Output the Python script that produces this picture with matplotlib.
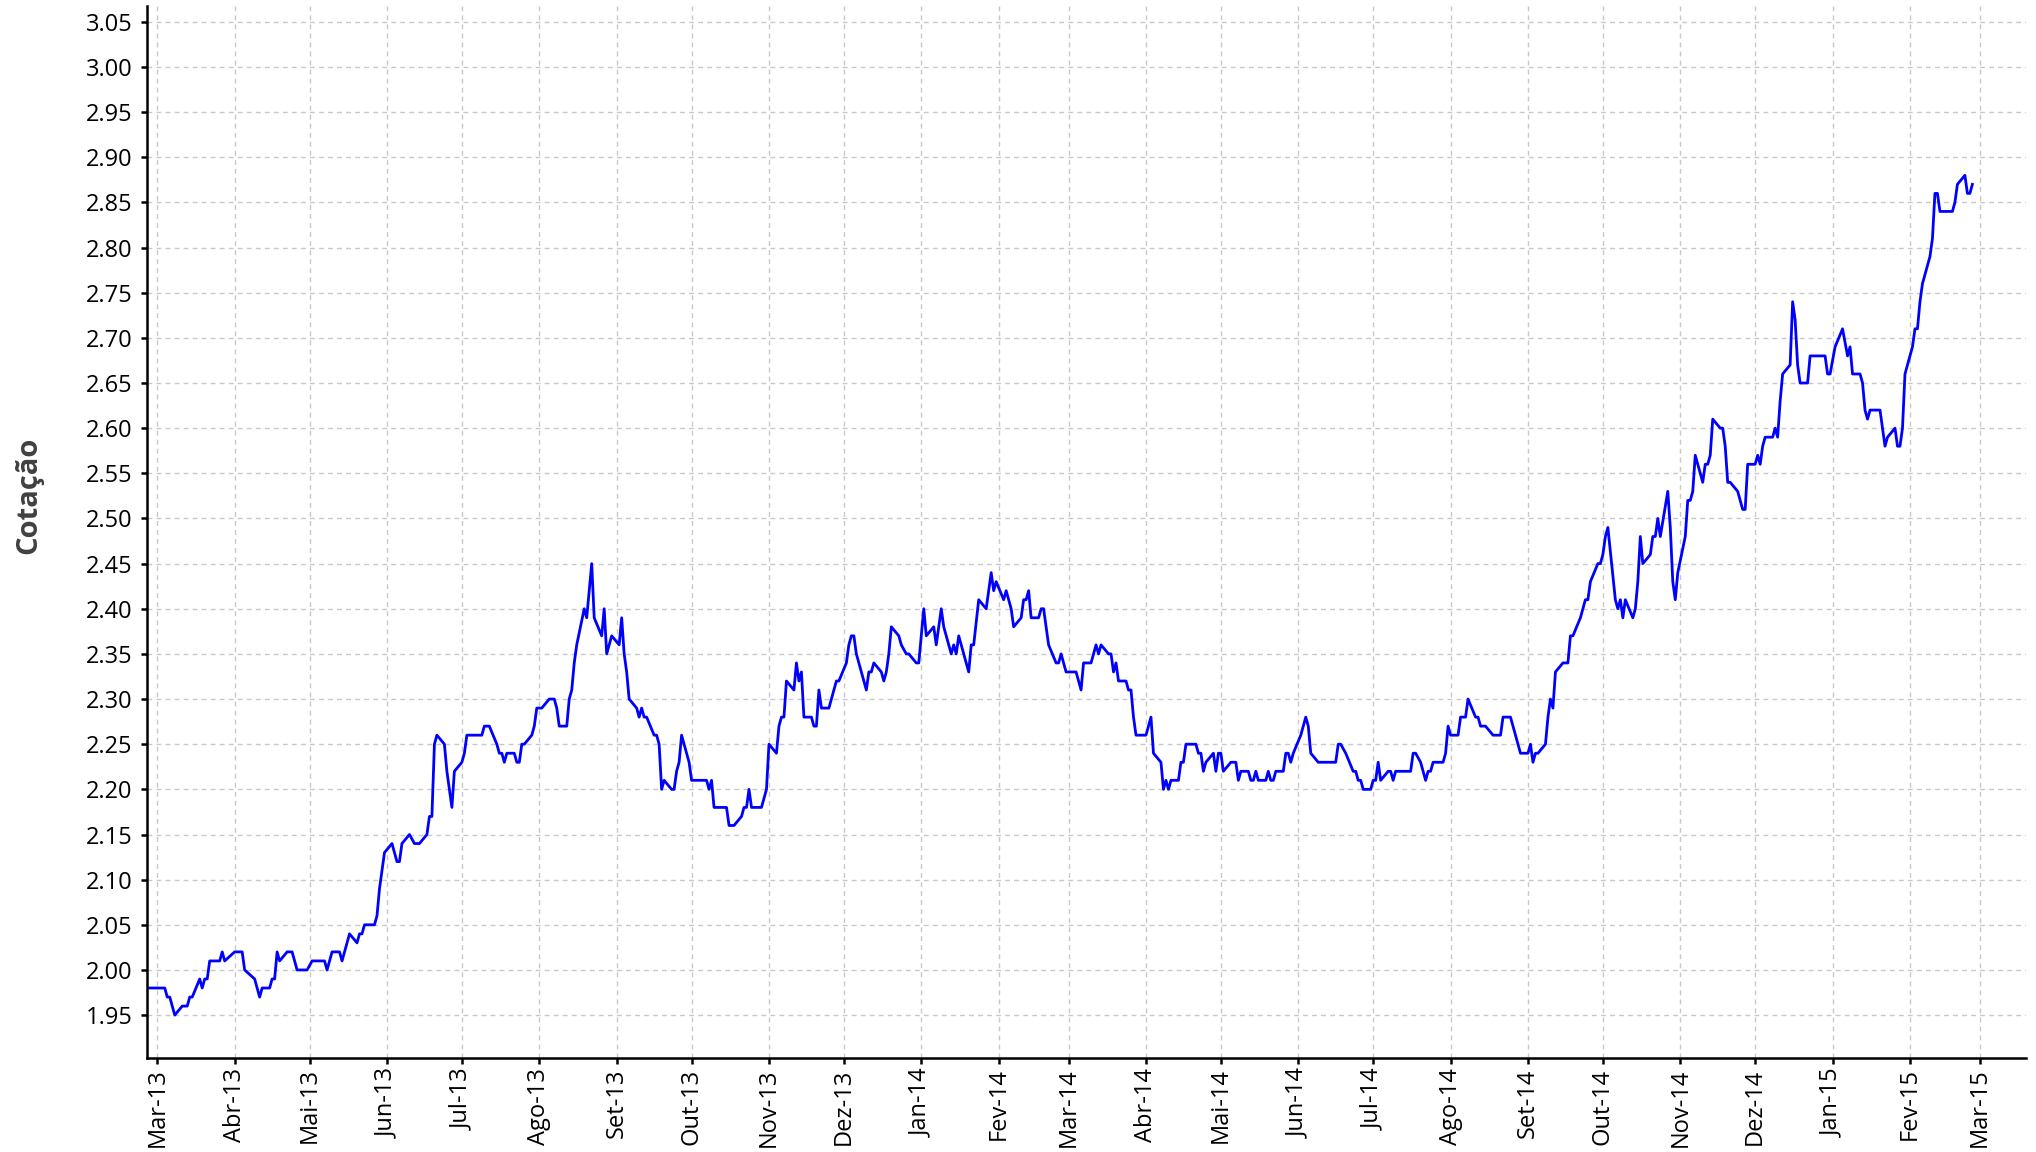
import numpy as np
import pandas as pd
import matplotlib
matplotlib.use("Agg")
import matplotlib.pyplot as plt

plt.rcParams['font.family'] = ['Open Sans', 'DejaVu Sans']

# dias contados a partir de 01/03/2013 e cotacao
dias = [-3, 3, 4, 5, 7, 10, 12, 13, 14, 17, 18, 19, 20, 21, 25, 26, 27, 31, 34, 35,
        39, 41, 42, 45, 46, 47, 48, 49, 52, 54, 56, 60, 62, 67, 68, 70, 73, 74, 77, 80,
        81, 82, 83, 87, 88, 89, 91, 94, 96, 97, 98, 101, 103, 105, 108, 109, 110, 111, 112, 115,
        116, 118, 119, 122, 123, 124, 130, 131, 133, 136, 137, 138, 139, 140, 143, 144, 145, 146, 147, 150,
        151, 152, 154, 157, 159, 160, 161, 164, 165, 166, 167, 168, 171, 172, 174, 175, 178, 179, 180, 182,
        185, 186, 187, 188, 189, 192, 193, 194, 195, 196, 199, 200, 201, 202, 203, 206, 207, 208, 209, 210,
        213, 214, 220, 221, 222, 223, 228, 229, 231, 234, 235, 236, 237, 238, 242, 244, 245, 248, 249, 250,
        251, 252, 255, 256, 257, 258, 259, 262, 263, 264, 265, 266, 269, 271, 272, 273, 276, 277, 278, 279,
        280, 284, 285, 286, 287, 290, 291, 292, 293, 294, 297, 298, 300, 301, 304, 305, 307, 308, 311, 312,
        314, 315, 318, 319, 320, 321, 323, 325, 326, 327, 329, 332, 334, 335, 336, 339, 340, 342, 343, 346,
        347, 348, 349, 350, 353, 354, 355, 357, 360, 361, 362, 364, 368, 370, 371, 374, 376, 377, 378, 381,
        382, 383, 384, 385, 388, 389, 390, 391, 392, 396, 398, 399, 402, 403, 404, 405, 406, 409, 410, 411,
        412, 416, 417, 418, 419, 420, 423, 424, 425, 426, 427, 430, 432, 433, 434, 437, 438, 439, 440, 441,
        444, 445, 446, 447, 448, 451, 452, 453, 454, 455, 458, 460, 461, 462, 465, 472, 473, 474, 476, 479,
        480, 481, 482, 483, 486, 487, 488, 489, 490, 493, 494, 495, 496, 502, 503, 504, 506, 507, 508, 509,
        510, 511, 515, 516, 517, 518, 521, 522, 524, 525, 528, 529, 530, 532, 535, 538, 539, 542, 546, 549,
        550, 551, 552, 553, 556, 557, 558, 559, 560, 563, 565, 566, 567, 570, 572, 573, 574, 577, 578, 579,
        580, 581, 584, 585, 586, 587, 588, 591, 592, 593, 594, 595, 598, 599, 600, 601, 602, 605, 606, 607,
        608, 609, 612, 613, 614, 615, 616, 619, 620, 621, 622, 623, 626, 627, 628, 629, 630, 633, 635, 636,
        637, 640, 641, 642, 643, 644, 647, 648, 649, 650, 651, 654, 655, 656, 657, 658, 661, 662, 668, 669,
        670, 672, 675, 677, 678, 679, 682, 683, 684, 685, 686, 690, 691, 692, 693, 696, 697, 698, 699, 700,
        703, 704, 705, 706, 707, 710, 711, 712, 713, 714, 719, 720, 721, 724, 725, 726, 727]

cotacao = [1.98, 1.98, 1.97, 1.97, 1.95, 1.96, 1.96, 1.97, 1.97, 1.99, 1.98, 1.99, 1.99, 2.01, 2.01, 2.02, 2.01, 2.02, 2.02, 2.00,
           1.99, 1.97, 1.98, 1.98, 1.99, 1.99, 2.02, 2.01, 2.02, 2.02, 2.00, 2.00, 2.01, 2.01, 2.00, 2.02, 2.02, 2.01, 2.04, 2.03,
           2.04, 2.04, 2.05, 2.05, 2.06, 2.09, 2.13, 2.14, 2.12, 2.12, 2.14, 2.15, 2.14, 2.14, 2.15, 2.17, 2.17, 2.25, 2.26, 2.25,
           2.22, 2.18, 2.22, 2.23, 2.24, 2.26, 2.26, 2.27, 2.27, 2.25, 2.24, 2.24, 2.23, 2.24, 2.24, 2.23, 2.23, 2.25, 2.25, 2.26,
           2.27, 2.29, 2.29, 2.30, 2.30, 2.29, 2.27, 2.27, 2.30, 2.31, 2.34, 2.36, 2.40, 2.39, 2.45, 2.39, 2.37, 2.40, 2.35, 2.37,
           2.36, 2.39, 2.35, 2.33, 2.30, 2.29, 2.28, 2.29, 2.28, 2.28, 2.26, 2.26, 2.25, 2.20, 2.21, 2.20, 2.20, 2.22, 2.23, 2.26,
           2.23, 2.21, 2.21, 2.20, 2.21, 2.18, 2.18, 2.16, 2.16, 2.17, 2.18, 2.18, 2.20, 2.18, 2.18, 2.20, 2.25, 2.24, 2.27, 2.28,
           2.28, 2.32, 2.31, 2.34, 2.32, 2.33, 2.28, 2.28, 2.27, 2.27, 2.31, 2.29, 2.29, 2.31, 2.32, 2.32, 2.34, 2.36, 2.37, 2.37,
           2.35, 2.31, 2.33, 2.33, 2.34, 2.33, 2.32, 2.33, 2.35, 2.38, 2.37, 2.36, 2.35, 2.35, 2.34, 2.34, 2.40, 2.37, 2.38, 2.36,
           2.40, 2.38, 2.35, 2.36, 2.35, 2.37, 2.35, 2.33, 2.36, 2.36, 2.41, 2.40, 2.44, 2.42, 2.43, 2.41, 2.42, 2.40, 2.38, 2.39,
           2.41, 2.41, 2.42, 2.39, 2.39, 2.40, 2.40, 2.36, 2.34, 2.34, 2.35, 2.33, 2.33, 2.31, 2.34, 2.34, 2.36, 2.35, 2.36, 2.35,
           2.35, 2.33, 2.34, 2.32, 2.32, 2.31, 2.31, 2.28, 2.26, 2.26, 2.28, 2.24, 2.23, 2.20, 2.21, 2.20, 2.21, 2.21, 2.23, 2.23,
           2.25, 2.25, 2.24, 2.24, 2.22, 2.23, 2.24, 2.22, 2.24, 2.24, 2.22, 2.23, 2.23, 2.21, 2.22, 2.22, 2.21, 2.21, 2.22, 2.21,
           2.21, 2.22, 2.21, 2.21, 2.22, 2.22, 2.24, 2.24, 2.23, 2.24, 2.26, 2.28, 2.27, 2.24, 2.23, 2.23, 2.25, 2.25, 2.24, 2.22,
           2.22, 2.21, 2.21, 2.20, 2.20, 2.21, 2.21, 2.23, 2.21, 2.22, 2.22, 2.21, 2.22, 2.22, 2.24, 2.24, 2.23, 2.22, 2.21, 2.22,
           2.22, 2.23, 2.23, 2.24, 2.27, 2.26, 2.26, 2.28, 2.28, 2.30, 2.28, 2.28, 2.27, 2.27, 2.26, 2.26, 2.28, 2.28, 2.24, 2.24,
           2.25, 2.23, 2.24, 2.24, 2.25, 2.28, 2.30, 2.29, 2.33, 2.34, 2.34, 2.37, 2.37, 2.39, 2.41, 2.41, 2.43, 2.45, 2.45, 2.46,
           2.48, 2.49, 2.41, 2.40, 2.41, 2.39, 2.41, 2.39, 2.40, 2.43, 2.48, 2.45, 2.46, 2.48, 2.48, 2.50, 2.48, 2.53, 2.49, 2.43,
           2.41, 2.44, 2.48, 2.52, 2.52, 2.53, 2.57, 2.54, 2.56, 2.56, 2.57, 2.61, 2.60, 2.60, 2.58, 2.54, 2.54, 2.53, 2.51, 2.51,
           2.56, 2.56, 2.57, 2.56, 2.58, 2.59, 2.59, 2.60, 2.59, 2.63, 2.66, 2.67, 2.74, 2.72, 2.67, 2.65, 2.65, 2.68, 2.68, 2.66,
           2.66, 2.69, 2.71, 2.68, 2.69, 2.66, 2.66, 2.65, 2.62, 2.61, 2.62, 2.62, 2.60, 2.58, 2.59, 2.60, 2.58, 2.58, 2.60, 2.66,
           2.69, 2.71, 2.71, 2.74, 2.76, 2.79, 2.81, 2.86, 2.86, 2.84, 2.84, 2.85, 2.87, 2.88, 2.86, 2.86, 2.87]

meses = ["Mar-13", "Abr-13", "Mai-13", "Jun-13", "Jul-13", "Ago-13", "Set-13", "Out-13", "Nov-13",
         "Dez-13", "Jan-14", "Fev-14", "Mar-14", "Abr-14", "Mai-14", "Jun-14", "Jul-14", "Ago-14",
         "Set-14", "Out-14", "Nov-14", "Dez-14", "Jan-15", "Fev-15", "Mar-15"]

inicio = pd.Timestamp("2013-03-01")
datas = inicio + pd.to_timedelta(dias, unit="D")
ticks = pd.date_range("2013-03-01", periods=len(meses), freq="MS")

fig = plt.figure(figsize=(20.36, 11.52), dpi=100)
ax = fig.add_axes([0.0721, 0.0816, 0.9229, 0.9128])

ax.plot(datas, cotacao, color="#0000FF", linewidth=2.0)

ax.set_xlim(inicio - pd.Timedelta(days=4.2), inicio + pd.Timedelta(days=748.4))
ax.set_ylim(1.9025, 3.067)
yt = np.arange(1.95, 3.051, 0.05)
ax.set_yticks(yt)
ax.set_yticklabels([f"{v:.2f}" for v in yt])
ax.set_xticks(ticks)
ax.set_xticklabels(meses, rotation=90)

ax.grid(True, color="#c8c8c8", linestyle=(0, (3.5, 3)), linewidth=1.0)
ax.set_axisbelow(True)
for s in ["top", "right"]:
    ax.spines[s].set_visible(False)
for s in ["left", "bottom"]:
    ax.spines[s].set_linewidth(1.8)
    ax.spines[s].set_color("black")
ax.tick_params(axis="both", length=4.5, width=1.8, labelsize=17, colors="black")
ax.tick_params(axis="y", pad=6)
ax.tick_params(axis="x", pad=3)

fig.text(0.014, 0.570, "Cotação", rotation=90, fontsize=21, fontweight="bold",
         color="#404040", ha="center", va="center")

fig.savefig("out.png", dpi=100)
